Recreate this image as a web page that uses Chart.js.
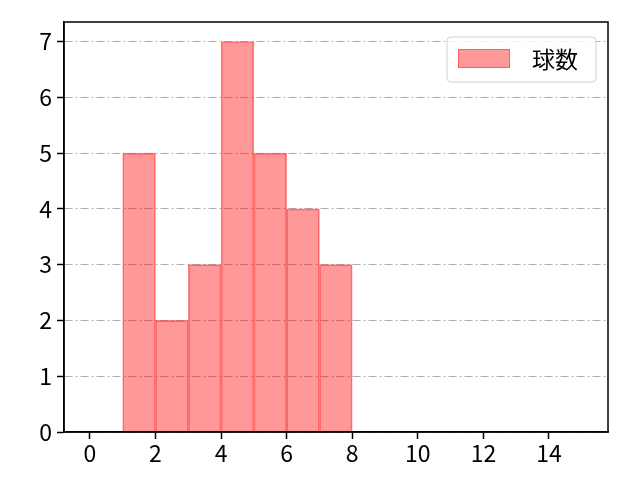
<!DOCTYPE html>
<html>
<head>
<meta charset="utf-8">
<script src="https://cdn.jsdelivr.net/npm/chart.js@4.4.1/dist/chart.umd.min.js"></script>
<style>
html,body{margin:0;padding:0;background:#fff;}
#wrap{width:640px;height:480px;position:relative;}
</style>
</head>
<body>
<div id="wrap"><canvas id="c" width="640" height="480"></canvas></div>
<script>
// Data
const binStarts = [1, 2, 3, 4, 5, 6, 7];
const binWidth = 1;
const counts = [5, 2, 3, 7, 5, 4, 3];
const seriesLabel = '球数';
const xTickStep = 2;
const yTickStep = 1;

const FONT = '"Noto Sans CJK JP", "DejaVu Sans", sans-serif';
const points = binStarts.map((s, i) => ({x: s + binWidth / 2, y: counts[i]}));

const frameAndLegend = {
  id: 'frameAndLegend',
  afterDraw(chart) {
    const {ctx, chartArea: a} = chart;
    ctx.save();
    ctx.strokeStyle = '#000';
    ctx.lineWidth = 1.5;
    ctx.strokeRect(a.left, a.top, a.right - a.left, a.bottom - a.top);
    // legend
    const ds = chart.data.datasets[0];
    const bx = a.right - 161, by = a.top + 15, bw = 149, bh = 45, r = 4;
    ctx.beginPath();
    ctx.moveTo(bx + r, by);
    ctx.arcTo(bx + bw, by, bx + bw, by + bh, r);
    ctx.arcTo(bx + bw, by + bh, bx, by + bh, r);
    ctx.arcTo(bx, by + bh, bx, by, r);
    ctx.arcTo(bx, by, bx + bw, by, r);
    ctx.closePath();
    ctx.fillStyle = 'rgba(255,255,255,0.8)';
    ctx.fill();
    ctx.strokeStyle = '#d0d0d0';
    ctx.lineWidth = 1;
    ctx.stroke();
    ctx.fillStyle = ds.backgroundColor;
    ctx.fillRect(bx + 11, by + 12, 52, 19);
    ctx.strokeStyle = ds.borderColor;
    ctx.strokeRect(bx + 11.5, by + 12.5, 51, 18);
    ctx.fillStyle = '#000';
    ctx.font = '23px ' + FONT;
    ctx.textBaseline = 'middle';
    ctx.textAlign = 'left';
    ctx.fillText(ds.label, bx + 85, by + bh / 2);
    ctx.restore();
  }
};

new Chart(document.getElementById('c'), {
  type: 'bar',
  data: {
    datasets: [{
      label: seriesLabel,
      data: points,
      backgroundColor: 'rgba(255,0,0,0.4)',
      borderColor: 'rgba(255,40,40,0.55)',
      borderWidth: 1,
      barPercentage: 1,
      categoryPercentage: 1
    }]
  },
  options: {
    responsive: false,
    animation: false,
    devicePixelRatio: 1,
    layout: {padding: {left: 0, top: 22, right: 32, bottom: 0}, autoPadding: false},
    plugins: {legend: {display: false}, tooltip: {enabled: false}},
    scales: {
      x: {
        type: 'linear',
        min: -0.79,
        max: 15.8,
        offset: false,
        ticks: {stepSize: xTickStep, includeBounds: false, color: '#000', font: {family: FONT, size: 23}, padding: 0, maxRotation: 0, autoSkip: false},
        grid: {offset: false, drawOnChartArea: false, drawTicks: true, tickLength: 7, tickColor: '#000', tickWidth: 1.5},
        border: {display: true, color: '#000', width: 1.5},
        afterFit(s) { s.height = 48; }
      },
      y: {
        min: 0,
        max: 7.35,
        ticks: {stepSize: yTickStep, includeBounds: false, color: '#000', font: {family: FONT, size: 23}, padding: 5},
        grid: {drawOnChartArea: true, color: '#b0b0b0', lineWidth: 1, drawTicks: true, tickLength: 7, tickColor: '#000', tickWidth: 1.5, tickBorderDash: []},
        border: {display: true, color: '#000', width: 1.5, dash: [8, 3, 2, 3]},
        afterFit(s) { s.width = 64; }
      }
    }
  },
  plugins: [frameAndLegend]
});
</script>
</body>
</html>
